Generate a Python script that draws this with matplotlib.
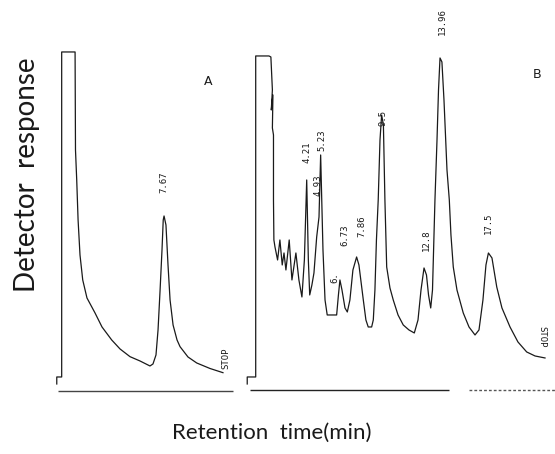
import matplotlib
matplotlib.use("Agg")
import matplotlib.pyplot as plt

# trace A: time (min), detector response (arbitrary units)
time_a = [-0.13, -0.13, 0.23, 0.23, 1.21, 1.24, 1.33, 1.43, 1.57, 1.77, 2.08, 2.67,
          3.18, 3.89, 4.50, 5.23, 5.96, 6.69, 6.91, 7.13, 7.28, 7.43, 7.57, 7.66,
          7.72, 7.86, 8.01, 8.16, 8.38, 8.67, 8.89, 9.47, 10.11, 11.08, 12.03]
resp_a = [-4, 3, 3, 328, 328, 230, 200, 160, 125, 100, 82, 67,
          53, 40, 31, 23.3, 19, 14, 16, 25, 50, 90, 130, 160,
          164, 155, 115, 80, 55, 40, 33.3, 23, 17, 11.5, 7.3]

# trace B
time_b = [-0.14, -0.14, 0.48, 0.48, 1.45, 1.59, 1.70, 1.62, 1.74, 1.70, 1.78, 1.78,
          1.81, 1.89, 2.08, 2.25, 2.42, 2.55, 2.69, 2.93, 3.13, 3.42, 3.64, 3.86,
          4.04, 4.21, 4.33, 4.43, 4.59, 4.74, 4.94, 5.11, 5.23, 5.31, 5.40, 5.55,
          5.71, 6.40, 6.53, 6.64, 6.79, 7.01, 7.18, 7.37, 7.59, 7.86, 8.03, 8.35,
          8.54, 8.71, 8.96, 9.08, 9.20, 9.31, 9.44, 9.57, 9.69, 9.82, 9.93, 10.06,
          10.30, 10.54, 10.89, 11.27, 11.69, 12.08, 12.35, 12.57, 12.79, 12.97, 13.12, 13.28,
          13.41, 13.59, 13.74, 13.85, 13.96, 14.10, 14.25, 14.47, 14.64, 14.76, 14.93, 15.20,
          15.66, 16.08, 16.52, 16.81, 17.10, 17.32, 17.50, 17.76, 18.11, 18.49, 19.08, 19.66,
          20.30, 20.91, 21.64]
resp_b = [-4, 3, 3, 324, 324, 323, 290, 270, 285, 252, 245, 180,
          140, 133, 120, 140, 115, 127, 110, 140, 100, 127, 100, 83,
          120, 200, 120, 85, 95, 107, 143, 163, 225, 180, 130, 80,
          65, 65, 85, 100, 90, 72, 68, 80, 110, 123, 115, 80,
          60, 53, 53, 60, 90, 140, 180, 240, 265, 255, 180, 113,
          92, 80, 65, 55, 50, 47, 60, 90, 112, 105, 85, 72,
          90, 180, 240, 290, 322, 318, 280, 210, 180, 145, 113, 90,
          67, 53, 45, 50, 80, 115, 127, 122, 93, 72, 53, 38,
          28, 24, 22]

labels_a = ["7.67"]
label_pos_a = [(7.72, 198)]
labels_b = ["4.21", "4.93", "5.23", "6.", "6.73", "7.86", "9.5", "12.8", "13.96", "17.5"]
label_pos_b = [(4.23, 228), (5.03, 195), (5.33, 240), (6.28, 102), (7.01, 145),
               (8.23, 154), (9.79, 262), (12.98, 140), (14.10, 358), (17.49, 157)]

fig = plt.figure(figsize=(5.55, 4.54), dpi=100)
ax_a = fig.add_axes([0.0811, 0.119, 0.3514, 0.815])
ax_b = fig.add_axes([0.4324, 0.119, 0.5676, 0.815])

ink = "#1a1a1a"
for ax, t, r, xlim in [(ax_a, time_a, resp_a, (-0.99, 13.28)),
                       (ax_b, time_b, resp_b, (-0.67, 22.37))]:
    ax.plot(t, r, color=ink, lw=0.9)
    ax.set_xlim(*xlim)
    ax.set_ylim(-20, 350)
    ax.axis("off")

# recorder base lines
ax_a.hlines(-10.7, -0.04, 12.77, color="#444444", lw=1.0)
ax_b.hlines(-10.5, 0.06, 14.64, color="#222222", lw=1.0)
ax_b.hlines(-10.5, 16.1, 22.37, color="#555555", lw=1.0, linestyles=(0, (2, 1.5)))

mono = dict(family="DejaVu Sans Mono", fontsize=6.5, color=ink,
            rotation=90, ha="center", va="center")
for s, (x, y) in zip(labels_a, label_pos_a):
    ax_a.text(x, y, s, **mono)
for s, (x, y) in zip(labels_b, label_pos_b):
    ax_b.text(x, y, s, **mono)
ax_a.text(12.25, 22, "STOP", **mono)
ax_b.text(21.42, 43, "STOP", **{**mono, "rotation": -90})

ax_a.text(10.94, 298, "A", fontsize=9, color=ink, ha="center", va="center")
ax_b.text(21.05, 305, "B", fontsize=9, color=ink, ha="center", va="center")

fig.text(0.049, 0.615, "Detector  response", rotation=90, ha="center", va="center",
         family=["Lato", "DejaVu Sans"], fontsize=20, color=ink)
fig.text(0.49, 0.046, "Retention  time(min)", ha="center", va="center",
         family=["Lato", "DejaVu Sans"], fontsize=16, color=ink)

fig.savefig("out.png", dpi=100)
